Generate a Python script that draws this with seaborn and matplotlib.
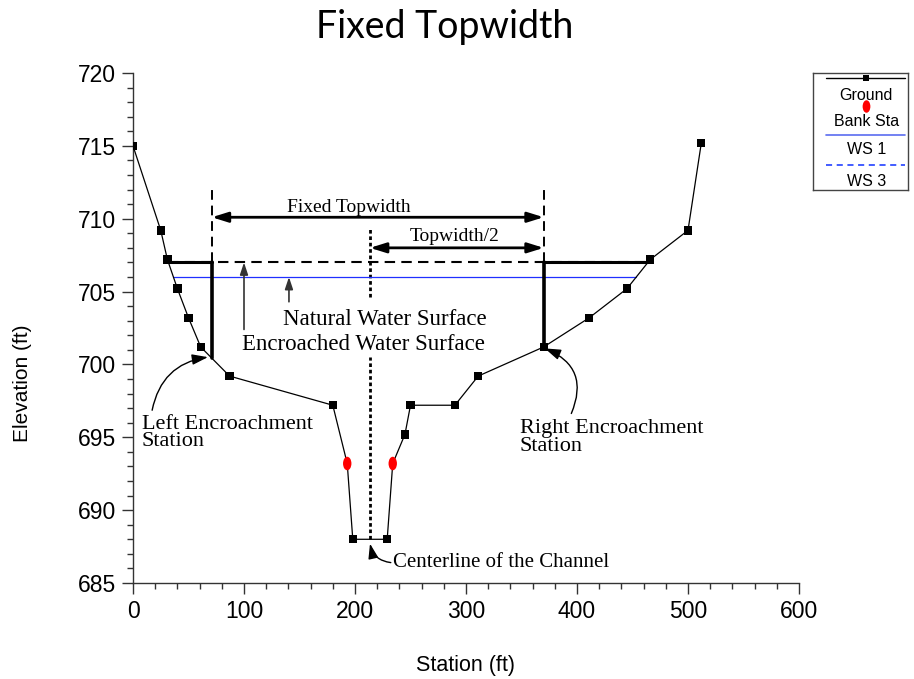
import numpy as np
import pandas as pd
import matplotlib
matplotlib.use("Agg")
import matplotlib.pyplot as plt
import seaborn as sns
from matplotlib.path import Path
from matplotlib.transforms import Affine2D
from matplotlib.ticker import MultipleLocator

# ---------------- data ----------------
station = [0, 25, 31, 40, 50, 61, 87, 180, 193, 198, 229, 234, 245, 250,
           290, 311, 370, 411, 445, 466, 500, 512]
elevation = [715.0, 709.2, 707.2, 705.2, 703.2, 701.2, 699.2, 697.2, 693.2, 688.0,
             688.0, 693.2, 695.2, 697.2, 697.2, 699.2, 701.2, 703.2, 705.2, 707.2,
             709.2, 715.2]
bank_station = [193, 234]
bank_elevation = [693.2, 693.2]
ws1 = 706.0          # natural water surface
ws3 = 707.0          # encroached water surface
enc_left = 71        # left encroachment station
enc_right = 370      # right encroachment station
topwidth_top = 712.2
fixed_topwidth_y = 710.1
half_topwidth_y = 708.0
xticks = [0, 100, 200, 300, 400, 500, 600]
yticks = [685, 690, 695, 700, 705, 710, 715, 720]


def crossing(level, side):
    """Station where the ground crosses a water level on the given side."""
    st = np.array(station, float)
    el = np.array(elevation, float)
    if side == "left":
        for i in range(len(st) - 1):
            if el[i] >= level >= el[i + 1]:
                return st[i] + (el[i] - level) / (el[i] - el[i + 1]) * (st[i + 1] - st[i])
    else:
        for i in range(len(st) - 1, 0, -1):
            if el[i] >= level >= el[i - 1]:
                return st[i - 1] + (level - el[i - 1]) / (el[i] - el[i - 1]) * (st[i] - st[i - 1])
    return None


# ---------------- style ----------------
sns.set_theme(style="ticks")
plt.rcParams['font.family'] = ['Liberation Sans', 'DejaVu Sans']
plt.rcParams['text.color'] = 'black'
plt.rcParams['axes.labelcolor'] = 'black'
plt.rcParams['xtick.color'] = 'black'
plt.rcParams['ytick.color'] = 'black'
SERIF = ['Liberation Serif', 'DejaVu Serif']

fig = plt.figure(figsize=(9.14, 6.79), dpi=100)
ax = fig.add_axes([133 / 914, 1 - 583 / 679, 666 / 914, 510 / 679])

ellipse = Affine2D().scale(0.62, 1.0).transform_path(Path.unit_circle())

df = pd.DataFrame({"Station": station, "Elevation": elevation})
df["Bank"] = df["Station"].isin(bank_station)
sns.lineplot(data=df, x="Station", y="Elevation", color="black", lw=0.9,
             estimator=None, sort=False, ax=ax, zorder=4)
pts = df[~df["Bank"]]
sns.scatterplot(data=pts, x="Station", y="Elevation", marker="s", s=36,
                color="black", edgecolor="none", ax=ax, zorder=5)
sns.scatterplot(x=bank_station, y=bank_elevation, marker=ellipse, s=95,
                color="red", edgecolor="none", ax=ax, zorder=6)

# water surfaces
l1, r1 = crossing(ws1, "left"), crossing(ws1, "right")
ax.plot([l1, r1], [ws1, ws1], color="#1f2fff", lw=0.9, zorder=3)

l3, r3 = crossing(ws3, "left"), crossing(ws3, "right")
ax.plot([l3, enc_left], [ws3, ws3], color="black", lw=2.2, zorder=3)
ax.plot([enc_right, r3], [ws3, ws3], color="black", lw=2.2, zorder=3)
ax.plot([l3, r3], [ws3, ws3], color="black", lw=1.5, ls=(0, (5, 3)), zorder=3)

# encroachment verticals
gl = np.interp(enc_left, station, elevation)
gr = np.interp(enc_right, station, elevation)
ax.plot([enc_left, enc_left], [gl, ws3], color="black", lw=2.6, zorder=5)
ax.plot([enc_right, enc_right], [gr, ws3], color="black", lw=2.6, zorder=5)
ax.plot([enc_left, enc_left], [ws3, topwidth_top], color="black", lw=1.4, ls=(0, (5, 3)))
ax.plot([enc_right, enc_right], [ws3, topwidth_top], color="black", lw=1.4, ls=(0, (5, 3)))

# centerline
center = (station[9] + station[10]) / 2
ax.plot([center, center], [688.0, 700.5], color="black", lw=2, ls=(0, (1.3, 1.0)))
ax.plot([center, center], [704.6, 709.4], color="black", lw=2, ls=(0, (1.3, 1.0)))

# dimension arrows
ax.annotate("", xy=(enc_left, fixed_topwidth_y), xytext=(enc_right, fixed_topwidth_y),
            arrowprops=dict(arrowstyle="<|-|>,head_length=0.8,head_width=0.25",
                            lw=2, color="black", shrinkA=0, shrinkB=0))
ax.annotate("", xy=(center, half_topwidth_y), xytext=(enc_right, half_topwidth_y),
            arrowprops=dict(arrowstyle="<|-|>,head_length=0.8,head_width=0.25",
                            lw=2, color="black", shrinkA=0, shrinkB=0))
ax.text(194.5, 710.75, "Fixed Topwidth", family=SERIF,
        fontsize=14, ha="center", va="center")
ax.text(290, 708.75, "Topwidth/2", family=SERIF, fontsize=14, ha="center", va="center")

# water surface labels
ax.annotate("", xy=(140.5, ws1), xytext=(140.5, 704.3),
            arrowprops=dict(arrowstyle="-|>,head_length=0.6,head_width=0.2",
                            lw=1.2, color="#333333", shrinkA=0, shrinkB=0))
ax.annotate("", xy=(100, ws3), xytext=(100, 702.4),
            arrowprops=dict(arrowstyle="-|>,head_length=0.6,head_width=0.2",
                            lw=1.2, color="#333333", shrinkA=0, shrinkB=0))
ax.text(227, 703.05, "Natural Water Surface", family=SERIF, fontsize=16.5,
        ha="center", va="center")
ax.text(208, 701.4, "Encroached Water Surface", family=SERIF, fontsize=16.5,
        ha="center", va="center")

# station annotations
ax.annotate("Left Encroachment\nStation", xy=(67.5, 700.5), xytext=(8, 695.3),
            family=SERIF, fontsize=16, ha="left", va="center", linespacing=0.9,
            arrowprops=dict(arrowstyle="-|>,head_length=0.6,head_width=0.2",
                            lw=1, color="black", shrinkA=0, shrinkB=0,
                            connectionstyle="arc3,rad=-0.35",
                            patchA=None, relpos=(0.06, 1.12)))
ax.annotate("Right Encroachment\nStation", xy=(371, 701.1), xytext=(348.6, 695.0),
            family=SERIF, fontsize=16, ha="left", va="center", linespacing=0.9,
            arrowprops=dict(arrowstyle="-|>,head_length=0.6,head_width=0.2",
                            lw=1, color="black", shrinkA=0, shrinkB=0,
                            connectionstyle="arc3,rad=0.5",
                            patchA=None, relpos=(0.28, 1.15)))
ax.annotate("Centerline of the Channel", xy=(center, 687.7), xytext=(234.2, 686.4),
            family=SERIF, fontsize=15, ha="left", va="center",
            arrowprops=dict(arrowstyle="-|>,head_length=0.6,head_width=0.2",
                            lw=1, color="black", shrinkA=0, shrinkB=0,
                            connectionstyle="arc3,rad=-0.35",
                            patchA=None, relpos=(-0.01, 0.5)))

# axes
ax.set_xlim(0, 600)
ax.set_ylim(685, 720)
ax.set_xticks(xticks)
ax.set_yticks(yticks)
ax.xaxis.set_minor_locator(MultipleLocator(20))
ax.yaxis.set_minor_locator(MultipleLocator(1))
ax.tick_params(which="major", length=8, width=1, color="#333333", labelsize=16.5,
               pad=4, direction="out", labelcolor="black")
ax.tick_params(which="minor", length=4, width=1, color="#333333", direction="out")
for side in ["top", "right"]:
    ax.spines[side].set_visible(False)
for side in ["left", "bottom"]:
    ax.spines[side].set_color("#333333")
    ax.spines[side].set_linewidth(1)
ax.set_xlabel("Station (ft)", fontsize=15.5, color="black")
ax.set_ylabel("Elevation (ft)", fontsize=15, color="black")
ax.xaxis.set_label_coords(0.5, -0.142)
ax.yaxis.set_label_coords(-0.152, 0.392)

fig.text(445 / 914, 1 - 27 / 679, "Fixed Topwidth", fontsize=27,
         family=['Lato', 'DejaVu Sans'], ha="center", va="center", color="black")

# legend box
lax = fig.add_axes([813 / 914, 1 - 190 / 679, 95 / 914, 117 / 679])
lax.set_xlim(0, 1)
lax.set_ylim(190, 73)
lax.set_xticks([])
lax.set_yticks([])
for s in lax.spines.values():
    s.set_color("#444444")
    s.set_linewidth(1)
lax.plot([0.14, 0.97], [78, 78], color="black", lw=1)
lax.plot([0.56], [78], marker="s", color="black", ms=5, mew=0)
lax.text(0.56, 95, "Ground", ha="center", va="center", fontsize=11.5)
lax.plot([0.56], [106], marker=ellipse, color="red", ms=9, mew=0, ls="none")
lax.text(0.56, 122, "Bank Sta", ha="center", va="center", fontsize=11.5)
lax.plot([0.14, 0.97], [135, 135], color="#5a6cf0", lw=1.2)
lax.text(0.56, 150, "WS 1", ha="center", va="center", fontsize=11.5)
lax.plot([0.14, 0.97], [165, 165], color="#1030ff", lw=1.1, ls=(0, (4, 3)))
lax.text(0.56, 182, "WS 3", ha="center", va="center", fontsize=11.5)

fig.savefig("out.png", dpi=100)
